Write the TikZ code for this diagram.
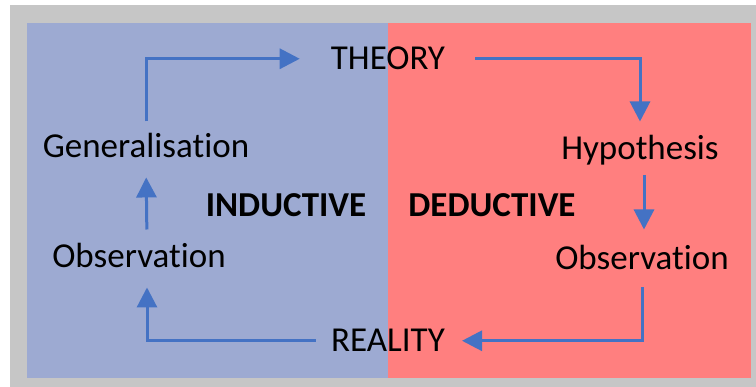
\documentclass[tikz,border=0pt]{standalone}
\usepackage{fontspec}
\setmainfont{Carlito}[RawFeature=-liga]
\usetikzlibrary{arrows.meta}
\definecolor{panelgrey}{HTML}{C6C6C6}
\definecolor{indblue}{HTML}{9DAAD2}
\definecolor{dedred}{HTML}{FF7F7F}
\definecolor{flowblue}{HTML}{4472C4}
\begin{document}
\begin{tikzpicture}[x=1pt, y=-1pt,
		lbl/.style={inner sep=0pt, anchor=base, font=\fontsize{35}{42}\selectfont},
		side/.style={lbl, font=\fontsize{35}{42}\selectfont\bfseries},
		flow/.style={draw=flowblue, line width=3pt, -{Triangle[length=20pt, width=20pt]}}]
	\useasboundingbox (0,0) rectangle (756,387);
	% frame and the two halves
	\fill[panelgrey] (10,5) rectangle (756,387);
	\fill[indblue] (27,23) rectangle (388,378);
	\fill[dedred] (388,23) rectangle (751,378);
	% labels
	\node[lbl] (theory) at (388,70) {THEORY};
	\node[lbl] (reality) at (388,352) {REALITY};
	\node[lbl] (gen) at (146,158) {Generalisation};
	\node[lbl] (obsL) at (139,268) {Observation};
	\node[lbl] (hyp) at (640,160) {Hypothesis};
	\node[lbl] (obsR) at (642,270) {Observation};
	\node[side] (ind) at (286,217) {INDUCTIVE};
	\node[side] (ded) at (492,217) {DEDUCTIVE};
	% the cycle
	\draw[flow, shorten <=12pt, shorten >=31pt] (gen.north) |- (theory.west);
	\draw[flow, shorten <=30pt, shorten >=14pt] (theory.east) -| (hyp.north);
	\draw[flow, shorten <=9pt, shorten >=16pt] ([xshift=4pt]hyp.south) -- ([xshift=2pt]obsR.north);
	\draw[flow, shorten <=17pt, shorten >=17pt] (obsR.south) |- (reality.east);
	\draw[flow, shorten <=15pt, shorten >=19pt] (reality.west) -| ([xshift=8pt]obsL.south);
	\draw[flow, shorten <=14pt, shorten >=19pt] ([xshift=8pt]obsL.north) -- (gen.south);
\end{tikzpicture}
\end{document}
